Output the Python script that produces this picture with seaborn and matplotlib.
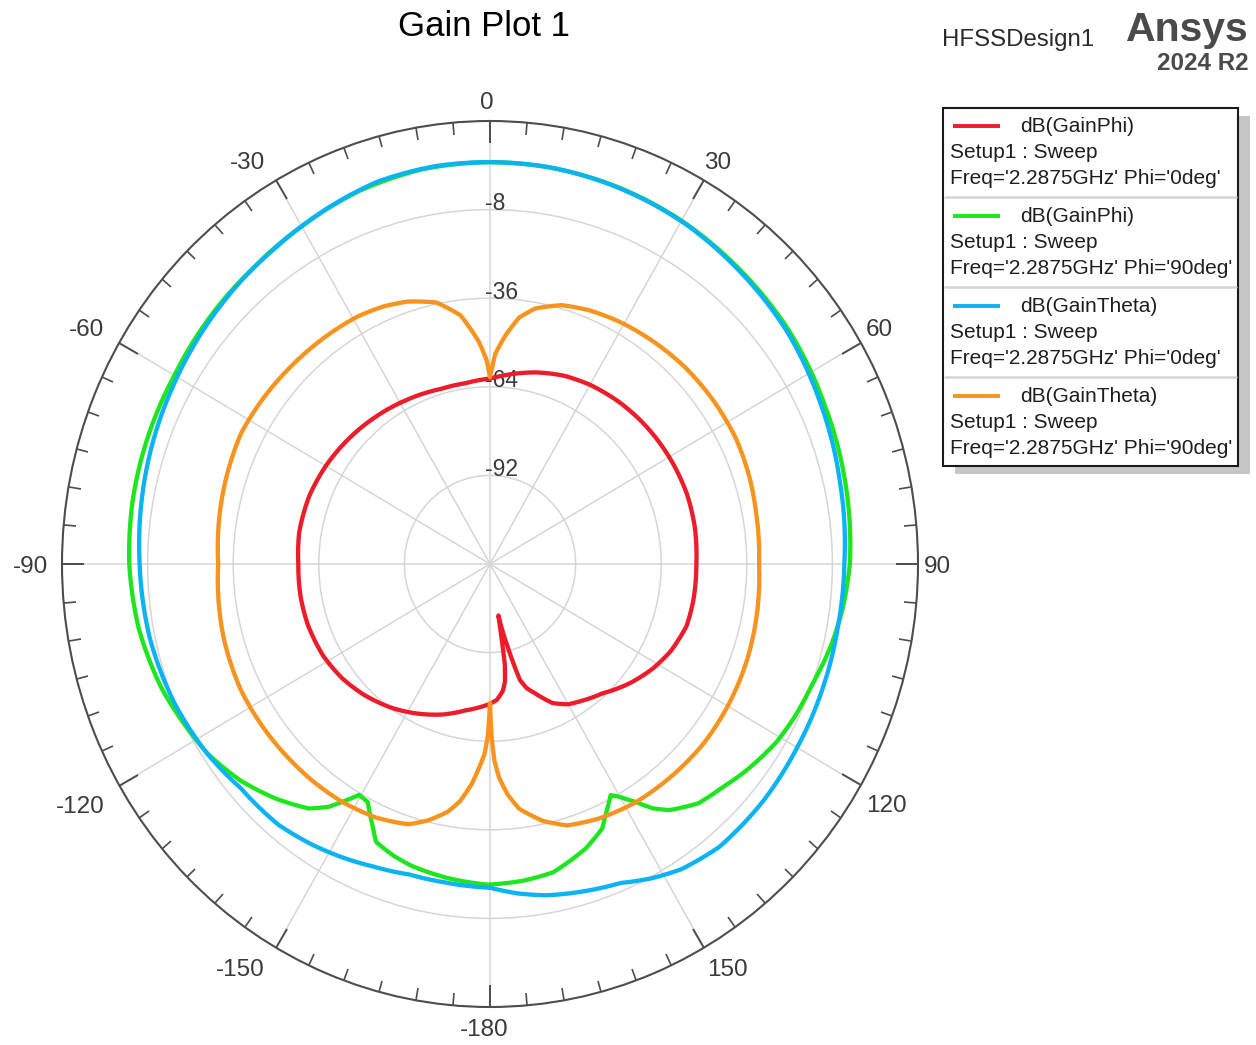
import numpy as np
import pandas as pd
import matplotlib
matplotlib.use("Agg")
import matplotlib.pyplot as plt
import seaborn as sns
from matplotlib.patches import Rectangle

# values (theta in deg, gain in dB)
red_theta = [-180, -170, -162, -153, -145, -135, -127, -118, -108, -100,
             -90, -81, -70, -60, -50, -39, -28, -16, -8, 0,
             7, 14, 22, 30, 40, 48, 55, 63, 71, 80,
             90, 100, 107, 115, 122, 130, 138, 145, 150, 155,
             160, 163, 165, 167.5, 169.5, 170.4, 170.8, 171.3, 172.5, 174,
             177, 180]
red_gain = [-75.8, -73, -70, -67, -64.4, -61.6, -59.7, -58.2, -57.4, -57.2,
            -57.3, -56.8, -57.1, -58, -59.1, -60.3, -61.4, -62.4, -62.3, -61.4,
            -59.5, -57.6, -55.8, -54.6, -53.6, -53, -52.6, -52.2, -51.9, -52,
            -52.5, -52.5, -52.8, -54.8, -57.4, -61, -65, -67.3, -68.8, -71.5,
            -76.4, -79, -82, -93, -100, -103.5, -97, -88, -82.5, -79.7,
            -77, -75.8]

green_theta = [-180, -172, -165, -161, -157, -155, -152, -149.6, -147.3, -145.5,
               -142.5, -136.5, -130, -123, -118, -110, -100, -90, -80, -70,
               -60, -50, -40, -30, -20, -10, 0, 10, 20, 30,
               40, 53, 65, 77, 90, 97, 103, 110, 116, 121,
               128, 133, 138, 143, 145.4, 147.6, 150, 151.6, 154.5, 156.3,
               160.8, 168, 174, 180]
green_gain = [-18.6, -19.8, -21.2, -22.6, -24.6, -29, -34.8, -35.4, -30.7, -26.9,
              -22.6, -17.9, -13.5, -9.9, -8.3, -5.6, -3.3, -2.0, -1.4, -1.1,
              -0.8, 0.3, 1.4, 3.2, 5.4, 6.7, 7.0, 6.8, 6.2, 5.3,
              4.0, 2.5, 0.5, -0.9, -2.3, -3.8, -5.5, -8.0, -9.3, -10.7,
              -13.8, -16.3, -18.2, -22.6, -26.2, -30.9, -35, -37, -32.2, -28.7,
              -24.8, -20.4, -19.3, -18.7]

blue_theta = [-180, -172, -165, -158, -153, -147, -140, -131, -123, -113,
              -102, -90, -80, -70, -61, -50, -42, -35, -26, -17,
              -8, 0, 8, 17, 24, 31, 40, 53, 65, 77,
              90, 100, 110, 120, 130, 140, 147, 152, 157, 163,
              170, 175, 180]
blue_gain = [-17.7, -18.3, -18.4, -17, -15.6, -14, -12.4, -12, -9.8, -7.8,
             -6.3, -5.4, -4.3, -3.1, -2.0, -0.3, 1.0, 2.1, 4.2, 6.3,
             7.0, 7.0, 6.9, 6.3, 5.7, 5.0, 3.6, 1.8, -0.6, -2.6,
             -4.1, -4.5, -4.3, -4.0, -3.4, -3.3, -5, -7.5, -10.5, -12,
             -13.7, -15.5, -17.7]

orange_theta = [-180, -179.3, -178.3, -177, -175, -172.5, -170, -166, -162, -155,
                -147, -140, -134, -125, -116, -105, -90, -78, -63, -55,
                -46, -38, -29, -23, -18, -12, -7, -3, -1, 0,
                1.5, 4, 7, 10.4, 16, 22, 29, 37, 46, 55,
                64, 72, 80, 90, 100, 110, 120, 129, 138, 148,
                156, 163, 168, 173, 175.5, 177.5, 178.7, 179.5, 180]
orange_gain = [-76, -66, -60, -56, -50, -44.3, -40.5, -36.5, -33.5, -31.6,
               -30.6, -30.2, -30, -29.6, -29.3, -29.8, -31.1, -30, -28.7, -29.2,
               -29.8, -30.2, -30.6, -31.5, -32.8, -35.5, -40.8, -49.6, -55.5, -61,
               -53.5, -47.6, -41.5, -37.9, -34.9, -33.5, -32.5, -31.7, -30.9, -30.5,
               -30.3, -30.8, -31.5, -32, -31.3, -30.6, -30.2, -30, -30.4, -30.9,
               -32, -33.6, -37, -42.1, -47, -52.5, -58, -66, -76]

trace_keys = ["phi0_gainphi", "phi90_gainphi", "phi0_gaintheta", "phi90_gaintheta"]
trace_names = ["dB(GainPhi)", "dB(GainPhi)", "dB(GainTheta)", "dB(GainTheta)"]
trace_phi = ["0deg", "90deg", "0deg", "90deg"]
trace_colors = ["#ec1c2a", "#1ee61e", "#0bb2f4", "#f7931e"]

theta_ticks = [0, 30, 60, 90, 120, 150, 180, 210, 240, 270, 300, 330]
theta_labels = ["0", "30", "60", "90", "120", "150", "-180", "-150", "-120", "-90", "-60", "-30"]
r_ticks = [-92, -64, -36, -8]
r_min, r_max = -120, 20

# label offsets (pixels) from the outer circle, per theta tick
label_offsets = [(-3, -18), (14, -17), (19, -12), (19, 3), (26, 21), (23, 22),
                 (-6, 23), (-36, 22), (-39, 21), (-32, 3), (-33, -12), (-28, -17)]

sns.set_style("white")
plt.rcParams["font.family"] = ["Liberation Sans", "DejaVu Sans"]

frames = []
for key, th, g in zip(trace_keys,
                      [red_theta, green_theta, blue_theta, orange_theta],
                      [red_gain, green_gain, blue_gain, orange_gain]):
    frames.append(pd.DataFrame({"theta": np.deg2rad(th), "gain": g, "trace": key}))
df = pd.concat(frames, ignore_index=True)

W, H = 1256, 1045
fig = plt.figure(figsize=(W / 100, H / 100), dpi=100)
# polar area: centre (490, 564) px, radii 428 x 443 px
ax = fig.add_axes([62 / W, 38 / H, 856 / W, 886 / H], projection="polar")
ax.set_aspect("auto")

sns.lineplot(data=df, x="theta", y="gain", hue="trace", hue_order=trace_keys,
             palette=dict(zip(trace_keys, trace_colors)), sort=False,
             estimator=None, legend=False, linewidth=3.1, ax=ax)
ax.set_xlabel("")
ax.set_ylabel("")
# draw segments as arcs in polar space rather than chords
for line in ax.lines:
    line.get_path()._interpolation_steps = 30

ax.set_theta_zero_location("N")
ax.set_theta_direction(-1)
ax.set_rlim(r_min, r_max)
ax.set_xticks(np.deg2rad(theta_ticks), [""] * len(theta_ticks))
ax.set_xticks(np.deg2rad(np.arange(0, 360, 5)), minor=True)
ax.set_yticks(r_ticks)
ax.set_yticklabels([])
ax.grid(True, color="#d6d6d6", linewidth=1.1)
ax.spines["polar"].set_color("#4d4d4d")
ax.spines["polar"].set_linewidth(1.5)
ax.tick_params(axis="x", which="major", direction="in", length=16, width=1.4,
               color="#4d4d4d", bottom=False, top=True)
ax.tick_params(axis="x", which="minor", direction="in", length=8.5, width=1.2,
               color="#4d4d4d", bottom=False, top=True)

for t, lbl, (ox, oy) in zip(theta_ticks, theta_labels, label_offsets):
    ax.annotate(lbl, xy=(np.deg2rad(t), r_max), xytext=(ox, -oy),
                textcoords="offset pixels", ha="center", va="center",
                fontsize=17.5, color="#3a3a3a", annotation_clip=False)

for r in r_ticks:
    ax.annotate(str(r), xy=(0, r), xytext=(-5, 6), textcoords="offset pixels",
                ha="left", va="center", fontsize=16.5, color="#3a3a3a", zorder=1.5)

# overlay in pixel coordinates for title, logo and legend
lax = fig.add_axes([0, 0, 1, 1])
lax.set_xlim(0, W)
lax.set_ylim(H, 0)
lax.axis("off")

lax.text(484, 27, "Gain Plot 1", ha="center", va="center", fontsize=25, color="black")
lax.text(1018, 40, "HFSSDesign1", ha="center", va="center", fontsize=17.3, color="#2a2a2a")
lax.text(1249, 30, "Ansys", ha="right", va="center", fontsize=29.5, fontweight="bold", color="#4a4a4a")
lax.text(1249, 63, "2024 R2", ha="right", va="center", fontsize=17.5, fontweight="bold", color="#4a4a4a")

bx0, by0, bx1, by1 = 943, 108, 1238, 466
lax.add_patch(Rectangle((bx0 + 12, by0 + 8), bx1 - bx0, by1 - by0, facecolor="#c6c6c6", edgecolor="none"))
lax.add_patch(Rectangle((bx0, by0), bx1 - bx0, by1 - by0, facecolor="white", edgecolor="#1a1a1a", linewidth=1.5))
for i, (name, phi, col) in enumerate(zip(trace_names, trace_phi, trace_colors)):
    y0 = 126 + 90 * i
    lax.plot([953, 1000], [y0, y0], color=col, linewidth=2.8, solid_capstyle="butt")
    lax.text(1020, y0, name, ha="left", va="center", fontsize=15, color="#1e1e1e")
    lax.text(950, y0 + 26, "Setup1 : Sweep", ha="left", va="center", fontsize=15, color="#1e1e1e")
    lax.text(950, y0 + 52, f"Freq='2.2875GHz' Phi='{phi}'", ha="left", va="center",
             fontsize=15, color="#1e1e1e")
    if i < 3:
        lax.plot([bx0 + 2, bx1 - 2], [y0 + 71, y0 + 71], color="#d4d4d4", linewidth=1.8)

fig.savefig("out.png", dpi=100)
